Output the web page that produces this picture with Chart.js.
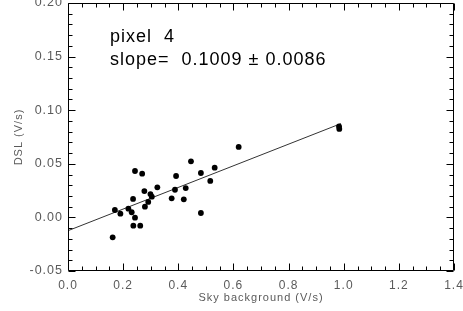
<!DOCTYPE html>
<html><head><meta charset="utf-8">
<script src="https://cdn.jsdelivr.net/npm/chart.js@4/dist/chart.umd.min.js"></script>
<style>html,body{margin:0;padding:0;background:#fff;overflow:hidden}canvas{display:block}</style>
</head><body>
<canvas id="c" width="463" height="311"></canvas>
<script>
// ---- data ----
const skyBackground = [0.162,0.170,0.190,0.219,0.231,0.236,0.243,0.237,0.262,0.243,
                       0.269,0.277,0.279,0.291,0.299,0.304,0.324,0.376,0.388,0.392,
                       0.420,0.427,0.446,0.482,0.482,0.516,0.532,0.619,0.983,0.984];
const dslValues     = [-0.0186,0.0069,0.0035,0.0081,0.0048,0.0172,-0.0003,-0.0077,-0.0077,0.0433,
                       0.0408,0.0246,0.0100,0.0144,0.0218,0.0193,0.0281,0.0178,0.0258,0.0386,
                       0.0169,0.0274,0.0523,0.0414,0.0041,0.0340,0.0464,0.0657,0.0848,0.0825];
const fitLineX = [0.0, 0.99];
const fitLineY = [-0.0124, 0.0875];
const xTickValues = [0.0,0.2,0.4,0.6,0.8,1.0,1.2,1.4];
const yTickValues = [-0.05,0.00,0.05,0.10,0.15,0.20];
const annotationLines = ['pixel  4', 'slope=  0.1009 \u00b1 0.0086'];
const annotationX = [0.152, 0.152];
const annotationY = [0.168, 0.147];
const xTitle = 'Sky background (V/s)';
const yTitle = 'DSL (V/s)';

const FONT = '"Liberation Sans", Arial, Helvetica, sans-serif';
const labelColor = '#5a5a5a';

const spacing = {
  id: 'spacing',
  beforeUpdate(chart){ chart.ctx.letterSpacing = '1px'; },
  beforeDraw(chart){ chart.ctx.letterSpacing = '1px'; }
};

const frameTicks = {
  id: 'frameTicks',
  afterDraw(chart){
    const {ctx, chartArea:a, scales:{x, y}} = chart;
    const L = Math.round(a.left)+0.5, R = Math.round(a.right)-0.5;
    const T = Math.round(a.top)+0.5, B = Math.round(a.bottom)-0.5;
    ctx.save();
    ctx.strokeStyle = '#000'; ctx.lineWidth = 1;
    ctx.beginPath();
    ctx.rect(L, T, R-L, B-T);
    for (let i = 0; i <= 28; i++) {
      const v = i*0.05;
      const px = Math.round(x.getPixelForValue(v)) + 0.5;
      const len = (i % 4 === 0) ? 7 : 4;
      ctx.moveTo(px, B); ctx.lineTo(px, B-len);
      ctx.moveTo(px, T); ctx.lineTo(px, T+len);
    }
    for (let i = 0; i <= 25; i++) {
      const v = -0.05 + i*0.01;
      const py = Math.round(y.getPixelForValue(v)) + 0.5;
      const len = (i % 5 === 0) ? 7 : 4;
      ctx.moveTo(L, py); ctx.lineTo(L+len, py);
      ctx.moveTo(R, py); ctx.lineTo(R-len, py);
    }
    ctx.stroke();
    ctx.letterSpacing = '1px';
    ctx.fillStyle = '#000';
    ctx.font = '18px ' + FONT;
    ctx.textAlign = 'left'; ctx.textBaseline = 'middle';
    annotationLines.forEach((t, i) => {
      ctx.fillText(t, x.getPixelForValue(annotationX[i]), y.getPixelForValue(annotationY[i]));
    });
    ctx.restore();
  }
};

new Chart(document.getElementById('c'), {
  type: 'scatter',
  data: {
    datasets: [
      {
        data: skyBackground.map((v, i) => ({x: v, y: dslValues[i]})),
        backgroundColor: '#000', borderColor: '#000', borderWidth: 0,
        pointRadius: 2.9, pointHoverRadius: 2.9
      },
      {
        data: fitLineX.map((v, i) => ({x: v, y: fitLineY[i]})),
        showLine: true, borderColor: '#333', borderWidth: 1,
        pointRadius: 0, fill: false
      }
    ]
  },
  options: {
    responsive: false, animation: false, devicePixelRatio: 1,
    layout: { padding: {top: 3, right: 9, bottom: 0, left: 0} },
    plugins: { legend: {display: false}, tooltip: {enabled: false} },
    scales: {
      x: {
        type: 'linear', min: 0, max: 1.4,
        afterBuildTicks: s => { s.ticks = xTickValues.map(v => ({value: v})); },
        afterFit: s => { s.height = 40; s.paddingLeft = 0; s.paddingRight = 0; },
        grid: {display: false, drawTicks: false},
        border: {display: false},
        ticks: {callback: v => Number(v).toFixed(1), font: {family: FONT, size: 12}, color: labelColor,
                padding: 7, maxRotation: 0, autoSkip: false},
        title: {display: true, text: xTitle, font: {family: FONT, size: 11}, color: labelColor,
                padding: {top: 0, bottom: 6}}
      },
      y: {
        type: 'linear', min: -0.05, max: 0.20,
        afterBuildTicks: s => { s.ticks = yTickValues.map(v => ({value: v})); },
        afterFit: s => { s.width = 68; s.paddingTop = 0; s.paddingBottom = 0; },
        grid: {display: false, drawTicks: false},
        border: {display: false},
        ticks: {callback: v => Number(v).toFixed(2), font: {family: FONT, size: 12.5}, color: labelColor,
                padding: 5, autoSkip: false},
        title: {display: true, text: yTitle, font: {family: FONT, size: 11}, color: labelColor,
                padding: {top: 12, bottom: 0}}
      }
    }
  },
  plugins: [spacing, frameTicks]
});
</script>
</body></html>
